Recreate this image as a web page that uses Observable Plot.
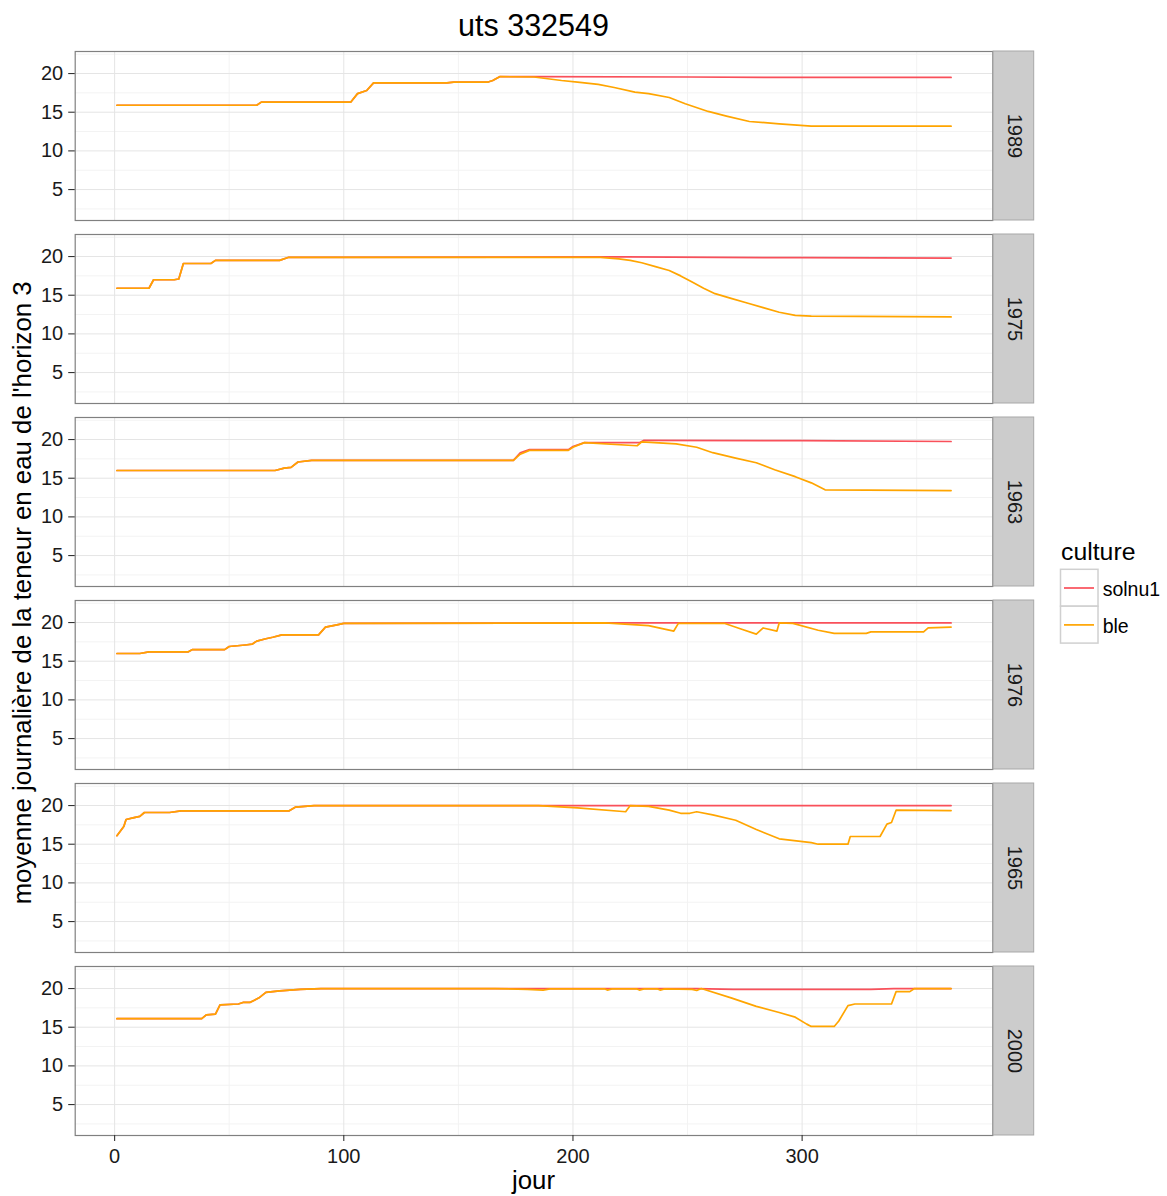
<!DOCTYPE html>
<html>
<head>
<meta charset="utf-8">
<script src="https://cdn.jsdelivr.net/npm/d3@7"></script>
<script src="https://cdn.jsdelivr.net/npm/@observablehq/plot@0.6"></script>
<style>
  html, body { margin: 0; padding: 0; background: #ffffff; }
  #wrap { position: relative; width: 1167px; height: 1196px; font-family: "Liberation Sans", Arial, Helvetica, sans-serif; }
  #chart { position: absolute; left: 0; top: 44px; }
  #overlay { position: absolute; left: 0; top: 0; pointer-events: none; }
</style>
</head>
<body>
<div id="wrap">
  <div id="chart"></div>
  <svg id="overlay" width="1167" height="1196"></svg>
</div>
<script>
// ---------- data ----------
const title = "uts 332549";
const yLabel = "moyenne journalière de la teneur en eau de l'horizon 3";
const xLabel = "jour";
const legendTitle = "culture";
const years = ["1989", "1975", "1963", "1976", "1965", "2000"];
const cultures = ["solnu1", "ble"];
const cultureColors = ["#f9505a", "#ffa500"];
const xTicks = [0, 100, 200, 300];
const xMinor = [50, 150, 250, 350];
const yTicks = [5, 10, 15, 20];
const yMinor = [2.5, 7.5, 12.5, 17.5, 22.5];

// [jour, valeur]
const solnu1_1989 = [[1,15.9],[62,15.9],[64,16.3],[103,16.3],[106,17.4],[110,17.8],[113,18.8],[145,18.8],[148,18.9],[163,18.9],[165,19.1],[168,19.6],[183,19.6],[250,19.55],[300,19.5],[365,19.5]];
const ble_1989 = [[1,15.9],[62,15.9],[64,16.3],[103,16.3],[106,17.4],[110,17.8],[113,18.8],[145,18.8],[148,18.9],[163,18.9],[165,19.1],[168,19.6],[183,19.55],[195,19.1],[202,18.9],[211,18.6],[218,18.2],[227,17.6],[233,17.4],[242,16.9],[249,16.1],[259,15.1],[267,14.5],[277,13.8],[290,13.5],[304,13.2],[365,13.2]];

const solnu1_1975 = [[1,15.9],[15,15.9],[17,17.0],[26,17.0],[28,17.1],[30,19.1],[42,19.1],[44,19.5],[72,19.5],[76,19.9],[223,19.95],[300,19.85],[365,19.8]];
const ble_1975 = [[1,15.9],[15,15.9],[17,17.0],[26,17.0],[28,17.1],[30,19.1],[42,19.1],[44,19.5],[72,19.5],[76,19.9],[212,19.9],[220,19.7],[225,19.5],[230,19.2],[236,18.7],[242,18.2],[247,17.5],[252,16.7],[257,15.9],[262,15.2],[269,14.6],[276,14.0],[283,13.4],[290,12.8],[297,12.4],[304,12.3],[365,12.2]];

const solnu1_1963 = [[1,16.0],[70,16.0],[74,16.3],[77,16.4],[80,17.1],[86,17.3],[174,17.3],[177,18.3],[181,18.7],[198,18.7],[200,19.1],[205,19.6],[229,19.6],[231,19.9],[300,19.85],[365,19.75]];
const ble_1963 = [[1,16.0],[70,16.0],[74,16.3],[77,16.4],[80,17.1],[86,17.3],[174,17.3],[177,18.1],[181,18.6],[198,18.6],[200,19.0],[205,19.6],[228,19.2],[230,19.7],[245,19.45],[254,19.0],[261,18.3],[271,17.6],[280,17.0],[288,16.1],[297,15.2],[304,14.4],[310,13.5],[365,13.4]];

const solnu1_1976 = [[1,16.0],[11,16.0],[15,16.2],[32,16.2],[34,16.5],[48,16.5],[50,16.9],[57,17.1],[60,17.2],[62,17.6],[66,17.9],[69,18.1],[73,18.4],[89,18.4],[92,19.4],[97,19.7],[100,19.9],[214,19.95],[365,19.95]];
const ble_1976 = [[1,16.0],[11,16.0],[15,16.2],[32,16.2],[34,16.5],[48,16.5],[50,16.9],[57,17.1],[60,17.2],[62,17.6],[66,17.9],[69,18.1],[73,18.4],[89,18.4],[92,19.4],[97,19.7],[100,19.9],[214,19.95],[233,19.6],[244,18.9],[246,19.9],[266,19.9],[273,19.2],[280,18.5],[283,19.3],[289,18.9],[290,19.95],[296,19.9],[307,19.0],[314,18.6],[328,18.6],[330,18.8],[353,18.8],[355,19.3],[365,19.4]];

const solnu1_1965 = [[1,16.1],[4,17.3],[5,18.2],[8,18.4],[11,18.6],[13,19.1],[24,19.1],[29,19.3],[76,19.3],[79,19.8],[87,20.0],[365,20.0]];
const ble_1965 = [[1,16.1],[4,17.3],[5,18.2],[8,18.4],[11,18.6],[13,19.1],[24,19.1],[29,19.3],[76,19.3],[79,19.8],[87,20.0],[185,20.0],[202,19.7],[223,19.2],[225,20.0],[233,19.9],[242,19.4],[247,19.0],[251,19.0],[254,19.2],[261,18.8],[271,18.1],[280,16.9],[290,15.7],[304,15.2],[307,15.0],[320,15.0],[321,16.0],[334,16.0],[337,17.6],[339,17.8],[341,19.4],[365,19.35]];

const solnu1_2000 = [[1,16.1],[38,16.1],[40,16.6],[44,16.7],[46,17.9],[54,18.0],[56,18.2],[59,18.2],[61,18.5],[63,18.8],[66,19.5],[72,19.7],[81,19.9],[90,20.0],[254,20.0],[270,19.9],[330,19.9],[340,20.0],[365,20.0]];
const ble_2000 = [[1,16.1],[38,16.1],[40,16.6],[44,16.7],[46,17.9],[54,18.0],[56,18.2],[59,18.2],[61,18.5],[63,18.8],[66,19.5],[72,19.7],[81,19.9],[90,20.0],[166,20.0],[180,19.9],[187,19.8],[190,19.95],[214,19.95],[215,19.8],[217,19.95],[228,19.95],[229,19.8],[231,19.95],[237,19.95],[238,19.8],[240,19.95],[252,19.9],[254,19.75],[256,20.0],[269,18.8],[280,17.7],[290,16.9],[297,16.3],[302,15.4],[304,15.1],[314,15.1],[316,15.8],[320,17.8],[323,18.0],[339,18.0],[341,19.6],[347,19.6],[349,20.0],[365,20.0]];

const seriesByYear = {
  "1989": {solnu1: solnu1_1989, ble: ble_1989},
  "1975": {solnu1: solnu1_1975, ble: ble_1975},
  "1963": {solnu1: solnu1_1963, ble: ble_1963},
  "1976": {solnu1: solnu1_1976, ble: ble_1976},
  "1965": {solnu1: solnu1_1965, ble: ble_1965},
  "2000": {solnu1: solnu1_2000, ble: ble_2000}
};

// flat table: all solnu1 first, then ble (ble drawn on top)
const rows = [];
for (const c of cultures) {
  for (const yr of years) {
    for (const [jour, valeur] of seriesByYear[yr][c]) rows.push({year: yr, culture: c, jour, valeur});
  }
}

// ---------- layout ----------
const W = 1167, H = 1152;
const mL = 74.7, mR = 174.7, mT = 6.7, mB = 61;
const frameW = W - mL - mR;
const stripW = 41.4;
const fontTick = 20;
const fontTitle = 25.8;

const chart = Plot.plot({
  width: W,
  height: H,
  marginTop: mT,
  marginBottom: mB,
  marginLeft: mL,
  marginRight: mR,
  style: {fontFamily: '"Liberation Sans", Arial, Helvetica, sans-serif', background: "#ffffff", color: "#1a1a1a", overflow: "visible"},
  x: {domain: [-17.2, 383.2]},
  y: {domain: [1.0, 22.85]},
  fy: {domain: years, paddingInner: 0.0764, paddingOuter: 0, axis: null, label: null},
  color: {domain: cultures, range: cultureColors},
  marks: [
    Plot.gridX(xMinor, {stroke: "#f3f3f3", strokeOpacity: 1, strokeWidth: 1}),
    Plot.gridY(yMinor, {stroke: "#f3f3f3", strokeOpacity: 1, strokeWidth: 1}),
    Plot.gridX(xTicks, {stroke: "#e5e5e5", strokeOpacity: 1, strokeWidth: 1}),
    Plot.gridY(yTicks, {stroke: "#e5e5e5", strokeOpacity: 1, strokeWidth: 1}),
    Plot.line(rows, {x: "jour", y: "valeur", z: "culture", stroke: "culture", fy: "year", strokeWidth: 1.7, strokeLinejoin: "round"}),
    Plot.frame({stroke: "#808080", strokeWidth: 1.2}),
    Plot.rect(years, {fy: d => d, fill: "#cccccc", stroke: "#a8a8a8", strokeWidth: 1, insetLeft: frameW + 0.8, insetRight: -stripW}),
    Plot.text(years, {fy: d => d, text: d => d, frameAnchor: "right", textAnchor: "middle", dx: 0.8 + stripW / 2, rotate: 90, fontSize: fontTick, fill: "#1a1a1a"}),
    Plot.axisY(yTicks, {tickSize: 6.5, tickPadding: 5.5, fontSize: fontTick, stroke: "#333333", strokeWidth: 1.1, fill: "#1a1a1a", label: null}),
    Plot.axisX(xTicks, {tickSize: 6, tickPadding: 7, fontSize: fontTick, stroke: "#333333", strokeWidth: 1.1, fill: "#1a1a1a", label: null})
  ]
});
document.getElementById("chart").appendChild(chart);

// ---------- overlay texts & legend ----------
const ov = d3.select("#overlay").style("font-family", '"Liberation Sans", Arial, Helvetica, sans-serif');
const panelCx = mL + frameW / 2;
ov.append("text").attr("x", panelCx).attr("y", 35.5).attr("text-anchor", "middle")
  .attr("font-size", 30.5).attr("fill", "#000").text(title);
ov.append("text").attr("x", panelCx).attr("y", 1189).attr("text-anchor", "middle")
  .attr("font-size", fontTitle).attr("fill", "#000").text(xLabel);
ov.append("text").attr("transform", `translate(31, ${44 + mT + (H - mT - mB) / 2}) rotate(-90)`)
  .attr("text-anchor", "middle").attr("font-size", fontTitle).attr("fill", "#000").text(yLabel);

// legend
const lg = ov.append("g");
lg.append("text").attr("x", 1061).attr("y", 560).attr("font-size", 24.8).attr("fill", "#000").text(legendTitle);
cultures.forEach((c, i) => {
  const top = 569.3 + i * 36.9;
  lg.append("rect").attr("x", 1060.5).attr("y", top).attr("width", 37.5).attr("height", 36.9)
    .attr("fill", "#ffffff").attr("stroke", "#d0d0d0").attr("stroke-width", 1.5);
  lg.append("line").attr("x1", 1064).attr("x2", 1094).attr("y1", top + 18.7).attr("y2", top + 18.7)
    .attr("stroke", cultureColors[i]).attr("stroke-width", 1.7);
  lg.append("text").attr("x", 1102.7).attr("y", top + 26.5).attr("font-size", 19.5).attr("fill", "#000").text(c);
});
</script>
</body>
</html>
